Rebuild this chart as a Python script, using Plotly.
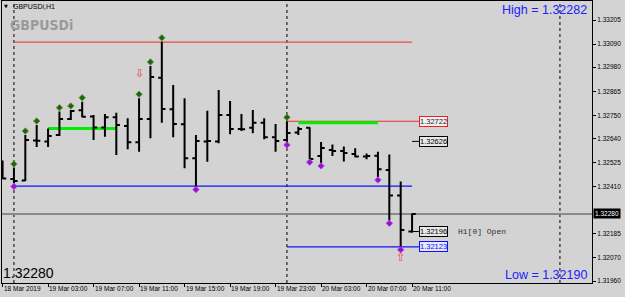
import plotly.graph_objects as go
import pandas as pd

# ---------------- data ----------------
start = pd.Timestamp("2019-03-18 23:00")
times = pd.date_range(start, periods=37, freq="h")

opens = [1.32513, 1.32447, 1.32439, 1.32630, 1.32625, 1.32656, 1.32733, 1.32774, 1.32745, 1.32692,
         1.32741, 1.32699, 1.32622, 1.32733, 1.32930, 1.32779, 1.32708, 1.32545, 1.32626, 1.32625,
         1.32752, 1.32685, 1.32691, 1.32715, 1.32646, 1.32633, 1.32668, 1.32691, 1.32556, 1.32585,
         1.32580, 1.32566, 1.32554, 1.32558, 1.32490, 1.32368, 1.32196]
highs = [1.32535, 1.32499, 1.32656, 1.32704, 1.32688, 1.32768, 1.32776, 1.32815, 1.32752, 1.32757,
         1.32763, 1.32736, 1.32832, 1.32986, 1.33101, 1.32895, 1.32832, 1.32656, 1.32772, 1.32871,
         1.32819, 1.32757, 1.32776, 1.32736, 1.32709, 1.32722, 1.32696, 1.32693, 1.32623, 1.32611,
         1.32602, 1.32593, 1.32568, 1.32577, 1.32563, 1.32435, 1.32282]
lows = [1.32447, 1.32425, 1.32437, 1.32599, 1.32599, 1.32652, 1.32728, 1.32741, 1.32633, 1.32648,
        1.32561, 1.32588, 1.32577, 1.32641, 1.32715, 1.32646, 1.32498, 1.32410, 1.32529, 1.32617,
        1.32660, 1.32676, 1.32665, 1.32636, 1.32577, 1.32623, 1.32656, 1.32541, 1.32523, 1.32556,
        1.32530, 1.32550, 1.32541, 1.32456, 1.32249, 1.32123, 1.32190]
closes = [1.32449, 1.32437, 1.32633, 1.32629, 1.32652, 1.32733, 1.32771, 1.32744, 1.32692, 1.32741,
          1.32704, 1.32622, 1.32733, 1.32933, 1.32780, 1.32709, 1.32545, 1.32628, 1.32628, 1.32752,
          1.32685, 1.32684, 1.32715, 1.32646, 1.32628, 1.32666, 1.32685, 1.32542, 1.32594, 1.32580,
          1.32571, 1.32554, 1.32556, 1.32493, 1.32368, 1.32203, 1.32280]

fractal_up_idx = [1, 2, 3, 5, 6, 7, 12, 13, 14, 25]
fractal_dn_idx = [1, 17, 25, 27, 28, 33, 34, 35]

y_tick_vals = [1.33205, 1.33090, 1.32980, 1.32865, 1.32750, 1.32640, 1.32525, 1.32410,
               1.32185, 1.32070, 1.31960]
y_tick_text = ["1.33205", "1.33090", "1.32980", "1.32865", "1.32750", "1.32640", "1.32525",
               "1.32410", "1.32185", "1.32070", "1.31960"]

x_tick_times = ["2019-03-18 23:00", "2019-03-19 03:00", "2019-03-19 07:00", "2019-03-19 11:00",
                "2019-03-19 15:00", "2019-03-19 19:00", "2019-03-19 23:00", "2019-03-20 03:00",
                "2019-03-20 07:00", "2019-03-20 11:00"]
x_tick_text = ["18 Mar 2019", "19 Mar 03:00", "19 Mar 07:00", "19 Mar 11:00", "19 Mar 15:00",
               "19 Mar 19:00", "19 Mar 23:00", "20 Mar 03:00", "20 Mar 07:00", "20 Mar 11:00"]

day_separators = ["2019-03-19 00:00", "2019-03-20 00:00", "2019-03-21 00:00"]

# horizontal levels: (price, start, end, color, width)
levels = [
    (1.33099, "2019-03-19 00:00", "2019-03-20 11:00", "#ee4a4a", 1.3),
    (1.32413, "2019-03-19 00:00", "2019-03-20 11:00", "#1010ff", 1.2),
    (1.32722, "2019-03-20 00:00", "2019-03-20 11:36", "#ee3030", 1.2),
    (1.32123, "2019-03-20 00:00", "2019-03-20 11:36", "#1010ff", 1.2),
    (1.32688, "2019-03-19 03:00", "2019-03-19 09:00", "#00ee00", 3),
    (1.32715, "2019-03-20 01:00", "2019-03-20 08:00", "#00ee00", 3),
    (1.32626, "2019-03-20 11:00", "2019-03-20 11:36", "#000000", 1),
    (1.32196, "2019-03-20 11:00", "2019-03-20 11:36", "#000000", 1),
]
current_price = 1.32280

# price labels: (price, text, border, text color, fill)
price_labels = [
    (1.32722, "1.32722", "#ee2020", "#202020", "#f2f2f2"),
    (1.32626, "1.32626", "#000000", "#000000", "#e8e8e8"),
    (1.32196, "1.32196", "#000000", "#000000", "#e8e8e8"),
    (1.32123, "1.32123", "#1010ff", "#1010ff", "#e6e6ff"),
]
label_time = "2019-03-20 11:36"

arrow_down = (12, 1.32952)
arrow_up = (35, 1.32072)

# ---------------- figure ----------------
W, H = 625, 297
ML, MR, MT, MB = 2, 33, 1, 14
PW, PH = W - ML - MR, H - MT - MB
PX_PER_HOUR = 11.375

def px(xp):
    return (xp - ML) / PW

def py(yp):
    return (H - MB - yp) / PH

fig = go.Figure()

fig.add_trace(go.Ohlc(
    x=times, open=opens, high=highs, low=lows, close=closes,
    increasing=dict(line=dict(color="black", width=2)),
    decreasing=dict(line=dict(color="black", width=2)),
    tickwidth=0.32, hoverinfo="skip",
))

up_pad = 0.00019
dn_pad = 0.00014
fig.add_trace(go.Scatter(
    x=[times[i] for i in fractal_up_idx], y=[highs[i] + up_pad for i in fractal_up_idx],
    mode="markers", marker=dict(symbol="diamond", size=5, color="#0b6b1a",
                                line=dict(color="#8c8c30", width=0.8)),
    hoverinfo="skip"))
fig.add_trace(go.Scatter(
    x=[times[i] for i in fractal_dn_idx], y=[lows[i] - dn_pad for i in fractal_dn_idx],
    mode="markers", marker=dict(symbol="diamond", size=5, color="#9a10d8",
                                line=dict(color="#b050e0", width=0.8)),
    hoverinfo="skip"))

shapes = []
for d in day_separators:
    shapes.append(dict(type="line", xref="x", yref="paper", x0=d, x1=d, y0=0, y1=1,
                       line=dict(color="black", width=1, dash="dot"), layer="below"))
shapes.append(dict(type="line", xref="paper", yref="y", x0=0, x1=1, y0=current_price,
                   y1=current_price, line=dict(color="#8a8a8a", width=2), layer="below"))
for price, t0, t1, col, wd in levels:
    shapes.append(dict(type="line", xref="x", yref="y", x0=t0, x1=t1, y0=price, y1=price,
                       line=dict(color=col, width=wd), layer="below"))

ann = []
FONT = "Liberation Sans, Arial, sans-serif"
for price, txt, bc, tc, fc in price_labels:
    ann.append(dict(x=label_time, y=price, xref="x", yref="y", text=txt, showarrow=False,
                    xanchor="left", yanchor="middle", bordercolor=bc, borderwidth=1, borderpad=0,
                    bgcolor=fc, font=dict(family=FONT, size=7.5, color=tc)))
ann.append(dict(x="2019-03-20 14:50", y=1.32196, xref="x", yref="y", text="H1[0] Open",
                showarrow=False, xanchor="left", yanchor="middle",
                font=dict(family="Liberation Mono, Courier New, monospace", size=8, color="#303030")))

ann.append(dict(x=times[arrow_down[0]], y=arrow_down[1], xref="x", yref="y", text="⇩",
                showarrow=False, font=dict(family="DejaVu Sans", size=11, color="#f03a3a")))
ann.append(dict(x=times[arrow_up[0]], y=arrow_up[1], xref="x", yref="y", text="⇧",
                showarrow=False, font=dict(family="DejaVu Sans", size=11, color="#f03a3a")))

# current price box on axis
ann.append(dict(x=1, y=current_price, xref="paper", yref="y", text="1.32280", showarrow=False,
                xanchor="left", yanchor="middle", xshift=1, bgcolor="black", borderpad=1,
                font=dict(family=FONT, size=6.5, color="white")))

# x tick labels (left aligned, MT4 style)
for t, s in zip(x_tick_times, x_tick_text):
    ann.append(dict(x=t, y=0, xref="x", yref="paper", text=s, showarrow=False,
                    xanchor="left", yanchor="top", xshift=-1, yshift=0,
                    font=dict(family=FONT, size=6.5, color="black")))

# texts
ann.append(dict(x=px(5.5), y=py(6.5), xref="paper", yref="paper", text="▼", showarrow=False,
                xanchor="center", yanchor="middle", font=dict(family="DejaVu Sans", size=5, color="black")))
ann.append(dict(x=px(11), y=py(6.5), xref="paper", yref="paper", text="GBPUSDi,H1", showarrow=False,
                xanchor="left", yanchor="middle", font=dict(family=FONT, size=7, color="black")))
ann.append(dict(x=px(8), y=py(25.5), xref="paper", yref="paper", text="<b>GBPUSDi</b>", showarrow=False,
                xanchor="left", yanchor="middle",
                font=dict(family="Liberation Sans Narrow, DejaVu Sans Condensed, Liberation Sans", size=14, color="#9a9a9a")))
ann.append(dict(x=px(589), y=py(10.5), xref="paper", yref="paper", text="High = 1.32282", showarrow=False,
                xanchor="right", yanchor="middle", font=dict(family=FONT, size=12.5, color="#2020ff")))
ann.append(dict(x=px(589), y=py(274.5), xref="paper", yref="paper", text="Low = 1.32190", showarrow=False,
                xanchor="right", yanchor="middle", font=dict(family=FONT, size=12.5, color="#2020ff")))
ann.append(dict(x=px(1), y=py(272.5), xref="paper", yref="paper", text="1.32280", showarrow=False,
                xanchor="left", yanchor="middle", font=dict(family=FONT, size=14, color="black")))

range_start = start - pd.Timedelta(minutes=3)
range_end = range_start + pd.Timedelta(hours=PW / PX_PER_HOUR)
y_top = 1.33205 + 19 / 20964
y_bot = 1.33205 - 263 / 20964

fig.update_layout(
    width=W, height=H, margin=dict(l=ML, r=MR, t=MT, b=MB),
    paper_bgcolor="#d3d3d3", plot_bgcolor="#d3d3d3", showlegend=False,
    shapes=shapes, annotations=ann,
    xaxis=dict(type="date", range=[range_start, range_end], showgrid=False, zeroline=False,
               showline=True, linecolor="black", linewidth=1, mirror=True,
               ticks="outside", ticklen=3, tickcolor="black", tickvals=x_tick_times,
               showticklabels=False, rangeslider=dict(visible=False), fixedrange=True),
    yaxis=dict(side="right", range=[y_bot, y_top], showgrid=False, zeroline=False,
               showline=True, linecolor="black", linewidth=1, mirror=True,
               ticks="outside", ticklen=3, tickcolor="black",
               tickvals=y_tick_vals, ticktext=y_tick_text,
               tickfont=dict(family=FONT, size=6.5, color="black"), fixedrange=True),
)

fig.write_html("out.html")
